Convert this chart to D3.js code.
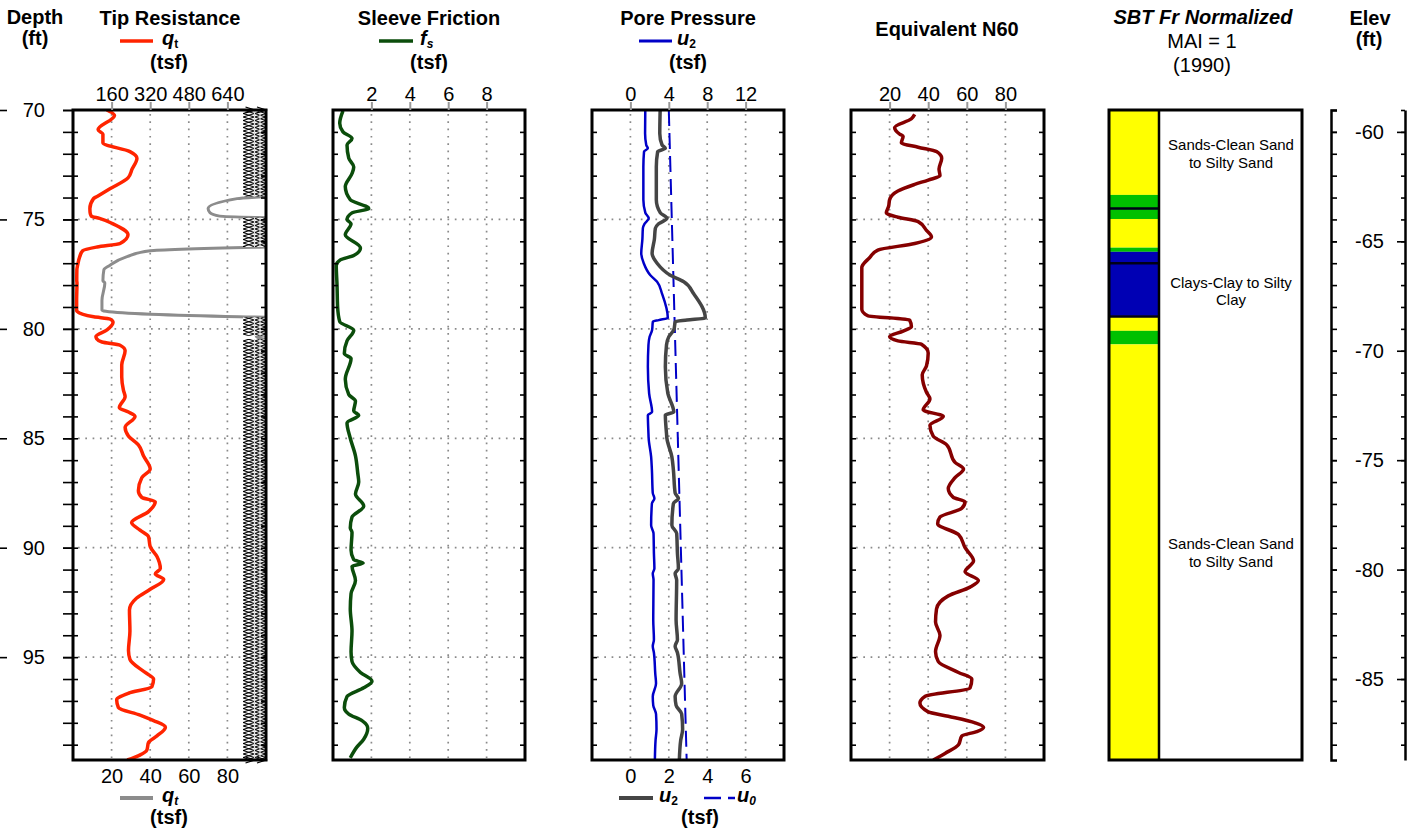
<!DOCTYPE html>
<html>
<head>
<meta charset="utf-8">
<title>CPT Log</title>
<script src="https://d3js.org/d3.v7.min.js"></script>
<style>
    body { margin: 0px; background: #fff; }
    svg text { font-family: "Liberation Sans", Arial, sans-serif; fill: #000; }
    .tick text { font-size: 20px; }
    .ttl { font-size: 20px; font-weight: bold; }
    .reg { font-size: 20px; }
</style>
</head>
<body>
<svg id="chart" width="1407" height="833"></svg>
<script type="text/javascript">

// depth and elevation range of the sounding (ft)
var depthRange = [70, 99.7];
var elevRange = [-59, -88.7];
var gridDepths = [75, 80, 85, 90, 95];

// tip resistance qt (tsf)
var qtDepth = [70.0, 70.25, 70.9, 71.1, 71.5, 71.9, 72.2, 72.7, 73.1, 73.6, 73.95, 74.05, 74.5, 74.7, 74.85, 74.95,
    75.2, 75.7, 76.1, 76.26, 76.43, 76.7, 77.1, 77.3, 77.8, 77.9, 78.7, 79.15, 79.2, 79.45, 79.55, 79.7,
    80.05, 80.35, 80.45, 80.6, 80.75, 81.0, 81.65, 82.2, 82.8, 83.1, 83.6, 83.8, 84.0, 84.5, 84.9, 85.3,
    85.8, 86.4, 86.8, 87.4, 87.7, 87.9, 88.35, 88.85, 89.2, 89.5, 89.95, 90.4, 90.95, 91.2, 91.45, 91.9,
    92.3, 92.85, 93.8, 94.7, 95.1, 95.7, 96.0, 96.35, 96.65, 96.95, 97.3, 97.65, 97.9, 98.2, 98.6, 98.9,
    99.25, 99.7];
var qtValue = [140, 172, 104, 124, 124, 236, 265, 245, 228, 153, 100, 85, 70, 71, 76, 110,
    166, 228, 195, 100, 40, 28, 19, 16, 15.5, 16.5, 15, 15, 17, 86, 153, 166,
    141, 95, 98, 120, 195, 216, 202, 202, 209, 216, 192, 230, 257, 216, 230, 271,
    292, 320, 285, 271, 285, 341, 313, 243, 278, 313, 320, 348, 362, 341, 376, 320,
    264, 234, 236, 230, 236, 299, 334, 327, 230, 181, 188, 278, 334, 383, 348, 313,
    306, 225];
var qtTopTicks = [160, 320, 480, 640];
var qtBottomTicks = [20, 40, 60, 80];

// sleeve friction fs (tsf)
var fsDepth = [70.04, 70.6, 71.0, 71.3, 71.6, 72.2, 72.6, 72.9, 73.5, 74.1, 74.5, 74.7, 75.0, 75.2, 75.7, 76.3,
    76.65, 76.85, 77.1, 78.0, 79.0, 79.67, 80.06, 80.55, 81.13, 81.36, 82.3, 83.0, 83.3, 83.75, 83.95, 84.3,
    85.0, 85.8, 86.6, 87.0, 87.55, 88.1, 88.6, 89.1, 89.3, 90.1, 90.55, 90.7, 90.85, 91.5, 92.1, 92.8,
    93.8, 94.75, 95.2, 95.7, 96.1, 96.4, 96.8, 97.3, 97.6, 97.9, 98.25, 98.75, 99.1, 99.6];
var fsValue = [0.52, 0.35, 0.52, 0.99, 0.73, 0.82, 1.08, 0.99, 0.64, 0.9, 1.86, 0.99, 0.73, 0.94, 0.64, 1.43,
    1.08, 0.38, 0.17, 0.21, 0.24, 0.35, 1.08, 0.73, 0.59, 0.94, 0.64, 0.82, 1.17, 1.08, 1.34, 0.73,
    0.9, 1.17, 1.29, 1.34, 1.17, 1.6, 0.99, 0.9, 0.99, 0.94, 1.08, 1.57, 0.99, 1.17, 0.94, 0.9,
    0.99, 0.94, 0.99, 1.43, 2.03, 1.6, 0.73, 0.59, 0.82, 1.51, 1.81, 1.6, 1.25, 0.9];
var fsTicks = [2, 4, 6, 8];

// pore pressure u2 and hydrostatic u0 (tsf)
var u2Depth = [70.0, 71.07, 71.6, 71.75, 71.9, 72.6, 74.1, 74.7, 74.95, 75.2, 75.4, 75.9, 76.55, 77.0, 77.55, 77.85,
    78.4, 79.5, 79.6, 79.67, 80.05, 80.36, 80.74, 81.73, 82.95, 83.8, 83.94, 84.78, 85.0, 85.85, 86.45, 87.5,
    87.75, 87.98, 88.97, 89.35, 90.26, 90.95, 91.18, 91.48, 93.3, 94.2, 94.5, 94.8, 95.75, 96.2, 96.8, 97.2,
    97.6, 98.3, 98.8, 99.7];
var u2Value = [1.55, 1.53, 1.65, 1.82, 1.42, 1.35, 1.35, 1.56, 1.91, 1.47, 1.3, 1.25, 1.13, 1.39, 2.08, 2.78,
    3.3, 3.9, 2.95, 2.34, 2.26, 2.0, 1.88, 1.82, 1.95, 2.26, 1.82, 1.88, 1.9, 2.16, 2.24, 2.33,
    2.5, 2.24, 2.16, 2.41, 2.45, 2.5, 2.33, 2.41, 2.38, 2.45, 2.33, 2.45, 2.59, 2.67, 2.33, 2.38,
    2.67, 2.72, 2.62, 2.55];
var u0Depth = [70.0, 99.7];
var u0Value = [2.0, 2.93];
var uTopTicks = [0, 4, 8, 12];
var uBottomTicks = [0, 2, 4, 6];

// equivalent N60
var n60Depth = [70.2, 70.4, 70.8, 71.1, 71.2, 71.5, 71.7, 71.9, 72.2, 72.7, 73.0, 73.2, 73.4, 73.7, 74.1, 74.4,
    74.7, 74.9, 75.1, 75.5, 75.8, 76.1, 76.4, 76.75, 77.2, 78.2, 79.1, 79.4, 79.6, 79.9, 80.1, 80.35,
    80.55, 80.7, 81.1, 81.7, 82.1, 82.9, 83.2, 83.7, 84.0, 84.4, 84.9, 85.3, 86.1, 86.4, 86.8, 87.3,
    87.7, 87.9, 88.2, 88.6, 88.9, 89.4, 90.0, 90.6, 91.1, 91.5, 91.8, 92.2, 92.8, 93.4, 94.0, 94.75,
    95.2, 95.7, 96.0, 96.4, 96.8, 97.1, 97.5, 97.7, 98.0, 98.2, 98.4, 98.6, 99.0, 99.4, 99.7];
var n60Value = [33.0, 31.3, 22.6, 25.2, 27.0, 26.1, 34.8, 44.3, 47.0, 45.6, 46.1, 40.0, 33.0, 24.3, 20.0, 19.5,
    18.3, 24.3, 34.8, 39.1, 41.7, 33.0, 13.9, 9.6, 5.6, 5.6, 5.6, 8.7, 30.4, 31.3, 27.0, 20.0,
    24.3, 36.5, 40.0, 39.1, 36.9, 39.1, 40.9, 37.4, 47.8, 40.9, 42.6, 49.6, 53.9, 58.3, 53.9, 50.4,
    53.0, 59.1, 57.4, 46.1, 44.9, 55.7, 59.1, 63.5, 59.1, 66.0, 61.7, 50.4, 44.3, 43.8, 46.1, 43.8,
    45.2, 55.7, 62.6, 61.7, 38.3, 35.7, 40.0, 50.4, 64.3, 68.7, 65.2, 57.4, 55.7, 48.7, 42.6];
var n60Ticks = [20, 40, 60, 80];

// SBT Fr normalized layers
var sbtFrom = [70.0, 73.88, 74.98, 76.29, 76.48, 79.41, 80.09, 80.71];
var sbtTo = [73.88, 74.98, 76.29, 76.48, 79.41, 80.09, 80.71, 99.7];
var sbtZone = ["sand", "silt", "sand", "silt", "clay", "sand", "silt", "sand"];
var sbtBreaks = [74.5, 77.0, 79.43];
var sbtLabelDepth = [72.0, 78.3, 90.25];
var sbtLabelLines = [["Sands-Clean Sand", "to Silty Sand"], ["Clays-Clay to Silty", "Clay"], ["Sands-Clean Sand", "to Silty Sand"]];
var zoneColor = {sand: "#ffff00", silt: "#00c000", clay: "#0000b4"};

var svg = d3.select("#chart");
var defs = svg.append("defs");
var y = d3.scaleLinear().domain(depthRange).range([110, 760]);
var yElev = d3.scaleLinear().domain(elevRange).range([110, 760]);
var oneFoot = d3.range(71, 100);

function pts(ds, vs) { return ds.map((d, i) => ({d: d, v: vs[i]})); }

function clip(id, x0, x1) {
    defs.append("clipPath").attr("id", id).append("rect")
        .attr("x", x0).attr("y", 110).attr("width", x1 - x0).attr("height", 650);
}

function grid(x, ticks, x0, x1) {
    svg.append("g").selectAll("line").data(ticks).join("line")
        .attr("x1", d => x(d)).attr("x2", d => x(d)).attr("y1", 114).attr("y2", 758)
        .attr("stroke", "#8a8a8a").attr("stroke-width", 1.7).attr("stroke-dasharray", "1.7,5.6");
    svg.append("g").selectAll("line").data(gridDepths).join("line")
        .attr("x1", x0 + 5).attr("x2", x1 - 3).attr("y1", d => y(d)).attr("y2", d => y(d))
        .attr("stroke", "#8a8a8a").attr("stroke-width", 1.7).attr("stroke-dasharray", "1.7,5.6");
}

function innerTicks(x0, x1) {
    svg.append("g").attr("transform", "translate(" + x0 + ",0)")
        .call(d3.axisRight(y).tickValues(oneFoot).tickSize(5).tickFormat(""))
        .call(g => g.select(".domain").remove())
        .selectAll("line").attr("stroke", "#000").attr("stroke-width", 1.6);
    svg.append("g").attr("transform", "translate(" + x1 + ",0)")
        .call(d3.axisLeft(y).tickValues(oneFoot).tickSize(5).tickFormat(""))
        .call(g => g.select(".domain").remove())
        .selectAll("line").attr("stroke", "#000").attr("stroke-width", 1.6);
}

function topAxis(x, ticks) {
    svg.append("g").attr("transform", "translate(0,110)")
        .call(d3.axisTop(x).tickValues(ticks).tickSize(8).tickPadding(1).tickFormat(d => d))
        .call(g => g.select(".domain").remove())
        .call(g => g.selectAll("line").attr("stroke", "#999").attr("stroke-width", 2));
}

function bottomAxis(x, ticks) {
    svg.append("g").attr("transform", "translate(0,760)")
        .call(d3.axisBottom(x).tickValues(ticks).tickSize(0).tickPadding(9).tickFormat(d => d))
        .call(g => g.select(".domain").remove());
}

function frame(x0, x1) {
    svg.append("rect").attr("x", x0).attr("y", 110).attr("width", x1 - x0).attr("height", 650)
        .attr("fill", "none").attr("stroke", "#000").attr("stroke-width", 3);
}

function curve(data, x, color, width, clipId, dash) {
    var line = d3.line().x(p => x(p.v)).y(p => y(p.d)).curve(d3.curveMonotoneY);
    svg.append("path").datum(data).attr("d", line)
        .attr("fill", "none").attr("stroke", color).attr("stroke-width", width)
        .attr("stroke-linejoin", "round").attr("stroke-dasharray", dash || null)
        .attr("clip-path", "url(#" + clipId + ")");
}

function title(cx, yy, txt, cls) {
    return svg.append("text").attr("class", cls || "ttl").attr("x", cx).attr("y", yy)
        .attr("text-anchor", "middle").text(txt);
}

// legend entry: line sample then a bold italic symbol with subscript
function legend(lx0, lx1, ly, color, width, dash, tx, sym, sub, subItalic) {
    svg.append("line").attr("x1", lx0).attr("x2", lx1).attr("y1", ly).attr("y2", ly)
        .attr("stroke", color).attr("stroke-width", width).attr("stroke-dasharray", dash || null);
    var t = svg.append("text").attr("x", tx).attr("y", ly + 4).attr("font-size", 20)
        .attr("font-weight", "bold").attr("font-style", "italic");
    t.append("tspan").text(sym);
    t.append("tspan").attr("font-size", 12).attr("dy", 3)
        .attr("font-style", subItalic ? "italic" : "normal").text(sub);
}

// where qt runs past the bottom scale
function overflowRuns(ds, vs, limit) {
    var runs = [], start = vs[0] > limit ? ds[0] : null;
    for (var i = 1; i < ds.length; i++) {
        var a = vs[i - 1] > limit, b = vs[i] > limit;
        if (a != b) {
            var t = (limit - vs[i - 1]) / (vs[i] - vs[i - 1]);
            var dc = ds[i - 1] + t * (ds[i] - ds[i - 1]);
            if (b) start = dc; else { runs.push([start, dc]); start = null; }
        }
    }
    if (start !== null) runs.push([start, ds[ds.length - 1]]);
    return runs;
}

// ---------------- Tip resistance ----------------
var tipX0 = 73, tipX1 = 266;
var xQt = d3.scaleLinear().domain([0, 800]).range([tipX0, tipX1]);
var xQt2 = d3.scaleLinear().domain([0, 100]).range([tipX0, tipX1]);
clip("clipTip", tipX0, tipX1);
grid(xQt, qtTopTicks, tipX0, tipX1);

var bandX0 = tipX1 - 23;
var pat = defs.append("pattern").attr("id", "zig").attr("patternUnits", "userSpaceOnUse")
    .attr("x", bandX0).attr("y", 110).attr("width", 11.5).attr("height", 7);
pat.append("rect").attr("width", 11.5).attr("height", 7).attr("fill", "#fff");
pat.append("path").attr("d", "M0,0 L11.5,3.5 L0,7").attr("fill", "none").attr("stroke", "#000").attr("stroke-width", 1.1);
pat.append("path").attr("d", "M11.5,0 L0,3.5 L11.5,7").attr("fill", "none").attr("stroke", "#000").attr("stroke-width", 1.1);

curve(pts(qtDepth, qtValue), xQt2, "#8c8c8c", 3, "clipTip");
var runs = overflowRuns(qtDepth, qtValue, 100);
var runG = svg.append("g").selectAll("g").data(runs).join("g");
runG.append("rect")
    .attr("x", bandX0).attr("width", tipX1 - bandX0)
    .attr("y", r => y(r[0])).attr("height", r => y(r[1]) - y(r[0]))
    .attr("fill", "url(#zig)");
[bandX0 + 11.5, bandX0 + 17].forEach(function(xl) {
    runG.append("line").attr("x1", xl).attr("x2", xl)
        .attr("y1", r => y(r[0])).attr("y2", r => y(r[1]))
        .attr("stroke", "#ddd").attr("stroke-width", 1.2);
});
// arrow heads where the run touches the top or bottom
runs.forEach(function(r) {
    [r[0], r[1]].forEach(function(d) {
        if (d === depthRange[0] || d === depthRange[1]) {
            [bandX0 + 11.5, tipX1].forEach(function(xa) {
                svg.append("path").attr("d", "M" + (xa - 9) + "," + (y(d) - 3) + " L" + xa + "," + y(d) + " L" + (xa - 9) + "," + (y(d) + 3))
                    .attr("fill", "none").attr("stroke", "#000").attr("stroke-width", 1.3);
            });
        }
    });
});
curve(pts(qtDepth, qtValue), xQt, "#ff2400", 3.5, "clipTip");
innerTicks(tipX0, tipX1);
frame(tipX0, tipX1);
topAxis(xQt, qtTopTicks);
bottomAxis(xQt2, qtBottomTicks);
title(170, 25, "Tip Resistance");
legend(120, 153, 41, "#ff2400", 3.5, null, 162, "q", "t", false);
title(169, 69, "(tsf)");
legend(120, 153, 798, "#8c8c8c", 4, null, 162, "q", "t", true);
title(169, 824, "(tsf)");

// ---------------- Sleeve friction ----------------
var fsX0 = 333, fsX1 = 525;
var xFs = d3.scaleLinear().domain([0, 10]).range([fsX0, fsX1]);
clip("clipFs", fsX0, fsX1);
grid(xFs, fsTicks, fsX0, fsX1);
curve(pts(fsDepth, fsValue), xFs, "#0b4d0b", 3.5, "clipFs");
innerTicks(fsX0, fsX1);
frame(fsX0, fsX1);
topAxis(xFs, fsTicks);
title(429, 25, "Sleeve Friction");
legend(379, 413, 41, "#0b4d0b", 3.5, null, 420, "f", "s", true);
title(429, 69, "(tsf)");

// ---------------- Pore pressure ----------------
var uX0 = 592, uX1 = 784;
var xU = d3.scaleLinear().domain([-4, 16]).range([uX0, uX1]);
var xU2 = d3.scaleLinear().domain([-2, 8]).range([uX0, uX1]);
clip("clipU", uX0, uX1);
grid(xU, uTopTicks, uX0, uX1);
curve(pts(u0Depth, u0Value), xU2, "#0000c8", 2, "clipU", "16,7");
curve(pts(u2Depth, u2Value), xU2, "#454545", 3.5, "clipU");
curve(pts(u2Depth, u2Value), xU, "#0000c8", 2.5, "clipU");
innerTicks(uX0, uX1);
frame(uX0, uX1);
topAxis(xU, uTopTicks);
bottomAxis(xU2, uBottomTicks);
title(688, 25, "Pore Pressure");
legend(639, 672, 41, "#0000c8", 3, null, 677, "u", "2", false);
title(688, 69, "(tsf)");
legend(619, 653, 798, "#454545", 4, null, 659, "u", "2", false);
legend(704, 735, 798, "#0000c8", 2.5, "17,7", 737, "u", "0", true);
title(700, 824, "(tsf)");

// ---------------- Equivalent N60 ----------------
var nX0 = 851, nX1 = 1044;
var xN = d3.scaleLinear().domain([0, 100]).range([nX0, nX1]);
clip("clipN", nX0, nX1);
grid(xN, n60Ticks, nX0, nX1);
curve(pts(n60Depth, n60Value), xN, "#850000", 3.5, "clipN");
innerTicks(nX0, nX1);
frame(nX0, nX1);
topAxis(xN, n60Ticks);
title(947, 36, "Equivalent N60");

// ---------------- SBT ----------------
var sX0 = 1109, sX1 = 1302, sDiv = 1159;
svg.append("g").selectAll("rect").data(sbtZone).join("rect")
    .attr("x", sX0).attr("width", sDiv - sX0)
    .attr("y", (z, i) => y(sbtFrom[i])).attr("height", (z, i) => y(sbtTo[i]) - y(sbtFrom[i]))
    .attr("fill", z => zoneColor[z]);
svg.append("g").selectAll("line").data(sbtBreaks).join("line")
    .attr("x1", sX0).attr("x2", sDiv).attr("y1", d => y(d)).attr("y2", d => y(d))
    .attr("stroke", "#000018").attr("stroke-width", 2.5);
svg.append("line").attr("x1", sDiv).attr("x2", sDiv).attr("y1", 110).attr("y2", 760)
    .attr("stroke", "#000").attr("stroke-width", 2.5);
frame(sX0, sX1);
sbtLabelLines.forEach(function(lines, i) {
    var cy = y(sbtLabelDepth[i]);
    lines.forEach(function(s, j) {
        svg.append("text").attr("x", 1231).attr("y", cy + (j - (lines.length - 1) / 2) * 17.5 + 5)
            .attr("text-anchor", "middle").attr("font-size", 15).text(s);
    });
});
title(1203, 24, "SBT Fr Normalized").attr("font-style", "italic");
title(1202, 48, "MAI = 1", "reg");
title(1202, 72, "(1990)", "reg");

// ---------------- Depth axis ----------------
var depthMajor = d3.range(70, 100, 5);
svg.append("g").attr("transform", "translate(" + tipX0 + ",0)")
    .call(d3.axisLeft(y).tickValues(oneFoot.concat([70])).tickSize(10).tickFormat(""))
    .call(g => g.select(".domain").remove())
    .selectAll("line").attr("stroke", "#000").attr("stroke-width", 1.6);
svg.append("g").attr("transform", "translate(" + tipX0 + ",0)")
    .call(d3.axisLeft(y).tickValues(depthMajor).tickSize(10).tickPadding(18).tickFormat(d => d))
    .call(g => g.select(".domain").remove())
    .selectAll("line").attr("stroke", "#000").attr("stroke-width", 1.6);
svg.append("g").attr("transform", "translate(0,0)")
    .call(d3.axisRight(y).tickValues(depthMajor).tickSize(7).tickFormat(""))
    .call(g => g.select(".domain").remove())
    .selectAll("line").attr("stroke", "#000").attr("stroke-width", 1.6);
title(35, 24, "Depth");
title(35, 45, "(ft)");

// ---------------- Elevation axis ----------------
var elevMinor = d3.range(-59, -89, -1);
var elevMajor = d3.range(-60, -89, -5);
svg.append("g").attr("transform", "translate(1331,0)")
    .call(d3.axisRight(yElev).tickValues(elevMinor).tickSize(6).tickSizeOuter(6).tickFormat(""))
    .call(g => g.select(".domain").attr("stroke-width", 2.5))
    .selectAll("line").attr("stroke", "#000").attr("stroke-width", 1.6);
svg.append("g").attr("transform", "translate(1331,0)")
    .call(d3.axisRight(yElev).tickValues(elevMajor).tickSize(6).tickPadding(18).tickFormat(d => String(d)))
    .call(g => g.select(".domain").remove())
    .selectAll("line").attr("stroke", "#000").attr("stroke-width", 1.6);
svg.append("g").attr("transform", "translate(1405,0)")
    .call(d3.axisLeft(yElev).tickValues(elevMinor).tickSize(4).tickSizeOuter(0).tickFormat(""))
    .call(g => g.select(".domain").attr("stroke-width", 2.5))
    .selectAll("line").attr("stroke", "#000").attr("stroke-width", 1.6);
svg.append("g").attr("transform", "translate(1405,0)")
    .call(d3.axisLeft(yElev).tickValues(elevMajor).tickSize(8).tickFormat(""))
    .call(g => g.select(".domain").remove())
    .selectAll("line").attr("stroke", "#000").attr("stroke-width", 1.6);
title(1370, 25, "Elev");
title(1369, 46, "(ft)");

</script>
</body>
</html>
